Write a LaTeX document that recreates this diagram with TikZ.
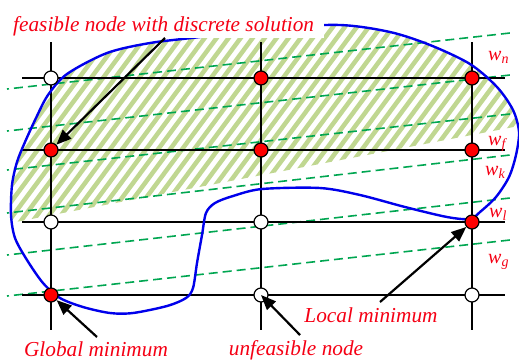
\documentclass[tikz,border=0pt]{standalone}
\usepackage{fontspec}
\setmainfont{Liberation Serif}
\usetikzlibrary{arrows.meta}
\definecolor{hatchgreen}{RGB}{192,215,145}
\definecolor{levelgreen}{RGB}{0,166,81}
\definecolor{boundblue}{RGB}{0,0,235}
\definecolor{labelred}{RGB}{245,0,20}

\begin{document}
\begin{tikzpicture}[
    x=1pt, y=-1pt,
    gridline/.style={line width=1.6pt, black},
    levelline/.style={line width=1.6pt, levelgreen, dash pattern=on 9pt off 5pt, dash phase=7pt},
    hatch/.style={line width=4.5pt, hatchgreen},
    bound/.style={line width=2.4pt, boundblue},
    gnode/.style={circle, draw=black, line width=1.2pt, minimum size=14pt, inner sep=0pt},
    feas/.style={gnode, fill=red},
    unfeas/.style={gnode, fill=white},
    ptr/.style={-{Triangle[length=15pt,width=12pt]}, line width=2.2pt, black},
    lbl/.style={text=labelred, font=\fontsize{21.3}{24}\selectfont\itshape, inner sep=0pt, anchor=base},
    wlbl/.style={text=labelred, font=\fontsize{20}{22}\selectfont\itshape, inner sep=0pt, anchor=base west}
]
\useasboundingbox (0,0) rectangle (519,360);

% hatched feasible region
\begin{scope}
    \clip plot[smooth cycle, tension=0.5] coordinates {
        (200,37) (270,28) (340,25) (390,32) (430,45) (470,64) (497,87) (513,110)
        (519,132) (516,155) (509,177) (496,197) (480,212) (470,219) (447,217)
        (405,207) (360,195) (320,188) (262,189) (233,196) (215,203) (206,213)
        (202,235) (197,263) (193,288) (186,298) (167,306) (133,313) (110,313)
        (83,307) (60,298) (43,283) (27,260) (15,238) (11,215) (12,185) (17,162)
        (25,142) (36,118) (48,95) (67,74) (107,53) (150,43)};
    \clip (0,0) -- (519,0) -- (519,126) -- (0,225) -- cycle;
    \foreach \i in {-20,...,45}
        \draw[hatch] (\i*12,330) -- ++(230,-310);
\end{scope}

% level lines w = const
\foreach \yl/\yr in {89/33, 131/75, 170/114, 213/155, 255/198, 296/240}
    \draw[levelline] (7,\yl) -- (510,\yr);

% grid
\foreach \x in {51,261,472}
    \draw[gridline] (\x,42) -- (\x,330);
\foreach \y in {78,150,222,295}
    \draw[gridline] (22,\y) -- (505,\y);

\draw[bound] plot[smooth cycle, tension=0.5] coordinates {
    (200,37) (270,28) (340,25) (390,32) (430,45) (470,64) (497,87) (513,110)
    (519,132) (516,155) (509,177) (496,197) (480,212) (470,219) (447,217)
    (405,207) (360,195) (320,188) (262,189) (233,196) (215,203) (206,213)
    (202,235) (197,263) (193,288) (186,298) (167,306) (133,313) (110,313)
    (83,307) (60,298) (43,283) (27,260) (15,238) (11,215) (12,185) (17,162)
    (25,142) (36,118) (48,95) (67,74) (107,53) (150,43)};

\node[unfeas] (n11) at (51,78) {};
\node[feas] (n12) at (261,78) {};
\node[feas] (n13) at (472,78) {};
\node[feas] (n21) at (51,150) {};
\node[feas] (n22) at (261,150) {};
\node[feas] (n23) at (472,150) {};
\node[unfeas] (n31) at (51,222) {};
\node[unfeas] (n32) at (261,222) {};
\node[feas] (n33) at (472,222) {};
\node[feas] (n41) at (51,295) {};
\node[unfeas] (n42) at (261,295) {};
\node[unfeas] (n43) at (472,295) {};

\node[wlbl] (wn) at (488,60) {w\textsubscript{n}};
\node[wlbl] (wf) at (488,145) {w\textsubscript{f}};
\node[wlbl] (wk) at (485,175) {w\textsubscript{k}};
\node[wlbl] (wl) at (489,217) {w\textsubscript{l}};
\node[wlbl] (wg) at (488,263) {w\textsubscript{g}};

\node[lbl, anchor=base west, fill=white, inner xsep=10pt, inner ysep=2pt] (feaslbl) at (3,31) {feasible node with discrete solution};
\node[lbl] (globlbl) at (96,356) {Global minimum};
\node[lbl] (unflbl) at (296,355) {unfeasible node};
\node[lbl] (loclbl) at (371,322) {Local minimum};

\coordinate (a1) at (165,38);
\coordinate (a2) at (97,337);
\coordinate (a3) at (300,335);
\coordinate (a4) at (380,302);

\draw[ptr] (a1) -- (n21);
\draw[ptr] (a2) -- (n41);
\draw[ptr] (a3) -- (n42.center);
\draw[ptr] (a4) -- (n33);
\end{tikzpicture}
\end{document}
